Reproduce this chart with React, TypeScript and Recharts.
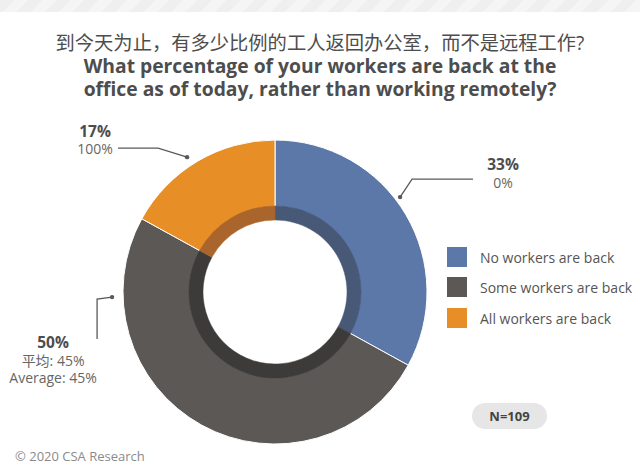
import React from 'react';
import { PieChart, Pie, Cell, Legend } from 'recharts';

const categories = ['No workers are back', 'Some workers are back', 'All workers are back'];
const shares = [33, 50, 17];
const subLabels: string[][] = [['0%'], ['平均: 45%', 'Average: 45%'], ['100%']];
const titleLines = [
  '到今天为止，有多少比例的工人返回办公室，而不是远程工作?',
  'What percentage of your workers are back at the',
  'office as of today, rather than working remotely?',
];
const sampleLabel = 'N=109';
const sourceLabel = '© 2020 CSA Research';

const colors = ['#5b78a9', '#5b5855', '#e78e27'];
const shadowColors = ['#485877', '#3d3b39', '#a9652b'];

const data = categories.map((name, i) => ({ name, value: shares[i] }));

const FONT = "'Open Sans', 'Noto Sans CJK SC', sans-serif";

// leader-line layout: dot placed at polar angle/radius from pie center, rest relative to dot
const labelLayout = [
  { angle: 37.2, r: 157, elbow: [12, -18], end: [73, -18], tx: 103, ty: [-33, -15] },
  { angle: 181.8, r: 163, elbow: [-15, 2], end: [-15, 42], tx: -59, ty: [45, 63, 80] },
  { angle: 123.1, r: 161, elbow: [-29, -9], end: [-69, -9], tx: -92, ty: [-26, -9] },
];

const renderLabel = (props: any) => {
  const { cx, cy, index } = props;
  const L = labelLayout[index];
  const rad = (L.angle * Math.PI) / 180;
  const x0 = cx + L.r * Math.cos(rad);
  const y0 = cy - L.r * Math.sin(rad);
  const pts = `${x0},${y0} ${x0 + L.elbow[0]},${y0 + L.elbow[1]} ${x0 + L.end[0]},${y0 + L.end[1]}`;
  const lines = [`${shares[index]}%`, ...subLabels[index]];
  return (
    <g>
      <polyline points={pts} fill="none" stroke="#595959" strokeWidth={1.3} />
      <circle cx={x0} cy={y0} r={2.2} fill="#595959" />
      {lines.map((t, i) => (
        <text
          key={i}
          x={x0 + L.tx}
          y={y0 + L.ty[i]}
          textAnchor="middle"
          dominantBaseline="central"
          fontFamily={FONT}
          fontSize={i === 0 ? 15.5 : 14}
          fontWeight={i === 0 ? 700 : 400}
          fill={i === 0 ? '#4d4d4d' : '#666'}
        >
          {t}
        </text>
      ))}
    </g>
  );
};

const renderLegend = () => (
  <div style={{ fontFamily: FONT }}>
    {categories.map((name, idx) => (
      <div
        key={name}
        style={{ display: 'flex', alignItems: 'center', height: 20, marginBottom: idx === 0 ? 10 : 11 }}
      >
        <div style={{ width: 20, height: 20, background: colors[idx], flex: 'none' }} />
        <span style={{ marginLeft: 13, fontSize: 14, color: '#555', whiteSpace: 'nowrap' }}>{name}</span>
      </div>
    ))}
  </div>
);

export default function App() {
  return (
    <div
      style={{
        position: 'fixed',
        left: 0,
        top: 0,
        width: 640,
        height: 467,
        background: '#fff',
        overflow: 'hidden',
        fontFamily: FONT,
      }}
    >
      <div
        style={{
          position: 'absolute',
          left: 0,
          top: 0,
          width: 640,
          height: 12,
          background:
            'repeating-linear-gradient(135deg, #efefef 0px, #efefef 10px, #f5f5f5 10px, #f5f5f5 20px)',
        }}
      />
      <div style={{ position: 'absolute', left: 0, top: 0 }}>
        <PieChart width={640} height={467} margin={{ top: 0, right: 0, bottom: 0, left: 0 }}>
          <Pie
            data={data}
            dataKey="value"
            nameKey="name"
            cx={275}
            cy={292}
            innerRadius={85}
            outerRadius={152}
            startAngle={90}
            endAngle={-270}
            stroke="#ffffff"
            strokeWidth={1}
            label={renderLabel}
            labelLine={false}
            isAnimationActive={false}
          >
            {data.map((d, i) => (
              <Cell key={d.name} fill={colors[i]} />
            ))}
          </Pie>
          <Pie
            data={data}
            dataKey="value"
            nameKey="name"
            cx={275}
            cy={292}
            innerRadius={72}
            outerRadius={86}
            startAngle={90}
            endAngle={-270}
            stroke="none"
            legendType="none"
            isAnimationActive={false}
          >
            {data.map((d, i) => (
              <Cell key={d.name} fill={shadowColors[i]} stroke={shadowColors[i]} strokeWidth={0.5} />
            ))}
          </Pie>
          <Legend
            layout="vertical"
            align="center"
            verticalAlign="middle"
            content={renderLegend}
            wrapperStyle={{ left: 447, top: 247, width: 192, right: 'auto', bottom: 'auto' }}
          />
        </PieChart>
      </div>
      <div
        style={{
          position: 'absolute',
          left: 0,
          top: 31,
          width: 640,
          textAlign: 'center',
          color: '#4d4d4d',
        }}
      >
        <div style={{ fontSize: 19.3, lineHeight: '24px', height: 24 }}>{titleLines[0]}</div>
        <div style={{ fontSize: 19.3, fontWeight: 700, lineHeight: '22.5px' }}>{titleLines[1]}</div>
        <div style={{ fontSize: 19.3, fontWeight: 700, lineHeight: '22.5px' }}>{titleLines[2]}</div>
      </div>
      <div
        style={{
          position: 'absolute',
          left: 472,
          top: 403,
          width: 75,
          height: 26,
          borderRadius: 13,
          background: '#e6e6e6',
          color: '#444',
          fontSize: 13,
          fontWeight: 700,
          lineHeight: '26px',
          textAlign: 'center',
        }}
      >
        {sampleLabel}
      </div>
      <div
        style={{
          position: 'absolute',
          left: 15,
          top: 448,
          fontSize: 13,
          lineHeight: '17px',
          color: '#8a8a8a',
          whiteSpace: 'nowrap',
        }}
      >
        {sourceLabel}
      </div>
    </div>
  );
}
